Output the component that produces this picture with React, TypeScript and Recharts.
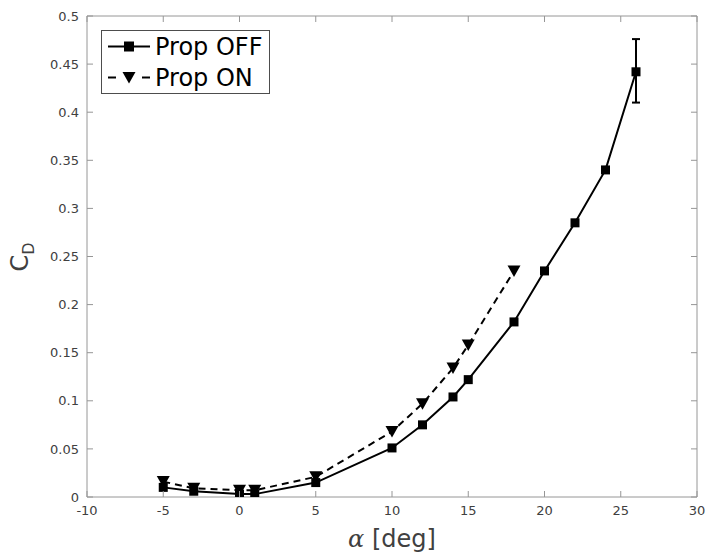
import React from 'react';
import { LineChart, Line, XAxis, YAxis, ErrorBar, Legend } from 'recharts';

// ---- data ----
const alphaOff = [-5, -3, 0, 1, 5, 10, 12, 14, 15, 18, 20, 22, 24, 26];
const cdOff = [0.010, 0.006, 0.003, 0.003, 0.015, 0.051, 0.075, 0.104, 0.122, 0.182, 0.235, 0.285, 0.340, 0.442];
const cdOffErr: (number[] | null)[] = [null, null, null, null, null, null, null, null, null, null, null, null, null, [0.032, 0.034]];

const alphaOn = [-5, -3, 0, 1, 5, 10, 12, 14, 15, 18];
const cdOn = [0.016, 0.009, 0.007, 0.007, 0.021, 0.068, 0.097, 0.134, 0.158, 0.235];

const seriesNames = ['Prop OFF', 'Prop ON'];
const xTicks = [-10, -5, 0, 5, 10, 15, 20, 25, 30];
const yTicks = [0, 0.05, 0.1, 0.15, 0.2, 0.25, 0.3, 0.35, 0.4, 0.45, 0.5];
const xLabelText = '[deg]';
const xLabelSymbol = 'α';
const yLabelMain = 'C';
const yLabelSub = 'D';

const offData = alphaOff.map((x, i) => ({ x, y: cdOff[i], err: cdOffErr[i] ?? undefined }));
const onData = alphaOn.map((x, i) => ({ x, y: cdOn[i] }));

// ---- styles ----
const FONT = '"DejaVu Sans", sans-serif';
const AXIS = '#969696';
const TXT = '#404040';
const TICK = 6;
const X_MARGIN = 9;
const Y_MARGIN = 8;

const BottomTick = (p: any) => {
  const axisY = p.y - X_MARGIN;
  return (
    <g>
      <line x1={p.x} y1={axisY} x2={p.x} y2={axisY - TICK} stroke={AXIS} />
      <text x={p.x} y={p.y} dy="0.71em" textAnchor="middle" fontSize={13} fill={TXT} fontFamily={FONT}>
        {p.payload.value}
      </text>
    </g>
  );
};

const LeftTick = (p: any) => {
  const axisX = p.x + Y_MARGIN;
  return (
    <g>
      <line x1={axisX} y1={p.y} x2={axisX + TICK} y2={p.y} stroke={AXIS} />
      <text x={p.x} y={p.y} dy="0.355em" textAnchor="end" fontSize={13} fill={TXT} fontFamily={FONT}>
        {p.payload.value}
      </text>
    </g>
  );
};

const TopTick = (p: any) => (
  <line x1={p.x} y1={p.y} x2={p.x} y2={p.y + TICK} stroke={AXIS} />
);

const RightTick = (p: any) => (
  <line x1={p.x - TICK} y1={p.y} x2={p.x} y2={p.y} stroke={AXIS} />
);

const SquareDot = (p: any) => (
  <rect key={`sq-${p.index}`} x={p.cx - 4.5} y={p.cy - 4.5} width={9} height={9} fill="#000" />
);

const TriDot = (p: any) => (
  <polygon
    key={`tri-${p.index}`}
    points={`${p.cx - 6.5},${p.cy - 5.5} ${p.cx + 6.5},${p.cy - 5.5} ${p.cx},${p.cy + 6}`}
    fill="#000"
  />
);

const XLabel = () => (
  <text x={392} y={547} textAnchor="middle" fontSize={24} fill={TXT} fontFamily={FONT}>
    <tspan fontStyle="italic" fontFamily='"DejaVu Serif", serif'>{xLabelSymbol}</tspan>
    <tspan> {xLabelText}</tspan>
  </text>
);

const YLabel = () => (
  <text
    x={28}
    y={257}
    transform="rotate(-90, 28, 257)"
    textAnchor="middle"
    fontSize={24}
    fill={TXT}
    fontFamily={FONT}
  >
    <tspan>{yLabelMain}</tspan>
    <tspan fontSize={16} dy={6}>{yLabelSub}</tspan>
  </text>
);

const LegendBox = () => (
  <div
    style={{
      border: '1px solid #4d4d4d',
      background: '#fff',
      width: 167,
      height: 62,
      fontFamily: FONT,
      fontSize: 24,
      color: '#000',
      boxSizing: 'content-box',
    }}
  >
    <div style={{ display: 'flex', alignItems: 'center', height: 31 }}>
      <svg width={53} height={31}>
        <line x1={6} y1={15.5} x2={48} y2={15.5} stroke="#000" strokeWidth={2} />
        <rect x={22} y={10.5} width={10} height={10} fill="#000" />
      </svg>
      <span style={{ lineHeight: 1 }}>{seriesNames[0]}</span>
    </div>
    <div style={{ display: 'flex', alignItems: 'center', height: 31 }}>
      <svg width={53} height={31}>
        <line x1={6} y1={15.5} x2={14} y2={15.5} stroke="#000" strokeWidth={2} />
        <line x1={40} y1={15.5} x2={48} y2={15.5} stroke="#000" strokeWidth={2} />
        <polygon points="20.5,10 33.5,10 27,21.5" fill="#000" />
      </svg>
      <span style={{ lineHeight: 1 }}>{seriesNames[1]}</span>
    </div>
  </div>
);

export default function App() {
  return (
    <div style={{ position: 'absolute', left: 0, top: 0, width: 712, height: 557, background: '#fff' }}>
      <LineChart width={712} height={557} margin={{ top: 15, right: 14, bottom: 15, left: 27 }}>
        <XAxis
          xAxisId="bottom"
          dataKey="x"
          type="number"
          domain={[-10, 30]}
          ticks={xTicks}
          interval={0}
          height={45}
          tickSize={0}
          tickMargin={X_MARGIN}
          tickLine={false}
          axisLine={{ stroke: AXIS }}
          tick={<BottomTick />}
          allowDataOverflow
        />
        <XAxis
          xAxisId="top"
          orientation="top"
          dataKey="x"
          type="number"
          domain={[-10, 30]}
          ticks={xTicks}
          interval={0}
          height={1}
          tickSize={0}
          tickMargin={0}
          tickLine={false}
          axisLine={{ stroke: AXIS }}
          tick={<TopTick />}
          allowDataOverflow
        />
        <YAxis
          yAxisId="left"
          type="number"
          domain={[0, 0.5]}
          ticks={yTicks}
          interval={0}
          width={60}
          tickSize={0}
          tickMargin={Y_MARGIN}
          tickLine={false}
          axisLine={{ stroke: AXIS }}
          tick={<LeftTick />}
          allowDataOverflow
        />
        <YAxis
          yAxisId="right"
          orientation="right"
          type="number"
          domain={[0, 0.5]}
          ticks={yTicks}
          interval={0}
          width={1}
          tickSize={0}
          tickMargin={0}
          tickLine={false}
          axisLine={{ stroke: AXIS }}
          tick={<RightTick />}
          allowDataOverflow
        />
        <Line
          xAxisId="bottom"
          yAxisId="left"
          data={offData}
          dataKey="y"
          name={seriesNames[0]}
          stroke="#000"
          strokeWidth={2}
          dot={SquareDot}
          activeDot={false}
          isAnimationActive={false}
        >
          <ErrorBar dataKey="err" width={4} stroke="#000" strokeWidth={2} direction="y" isAnimationActive={false} />
        </Line>
        <Line
          xAxisId="bottom"
          yAxisId="left"
          data={onData}
          dataKey="y"
          name={seriesNames[1]}
          stroke="#000"
          strokeWidth={2}
          strokeDasharray="7 5"
          dot={TriDot}
          activeDot={false}
          isAnimationActive={false}
        />
        <Legend
          layout="horizontal"
          verticalAlign="middle"
          align="center"
          wrapperStyle={{ top: 30, left: 101, width: 'auto', height: 'auto' }}
          content={() => <LegendBox />}
        />
        <XLabel />
        <YLabel />
      </LineChart>
    </div>
  );
}
